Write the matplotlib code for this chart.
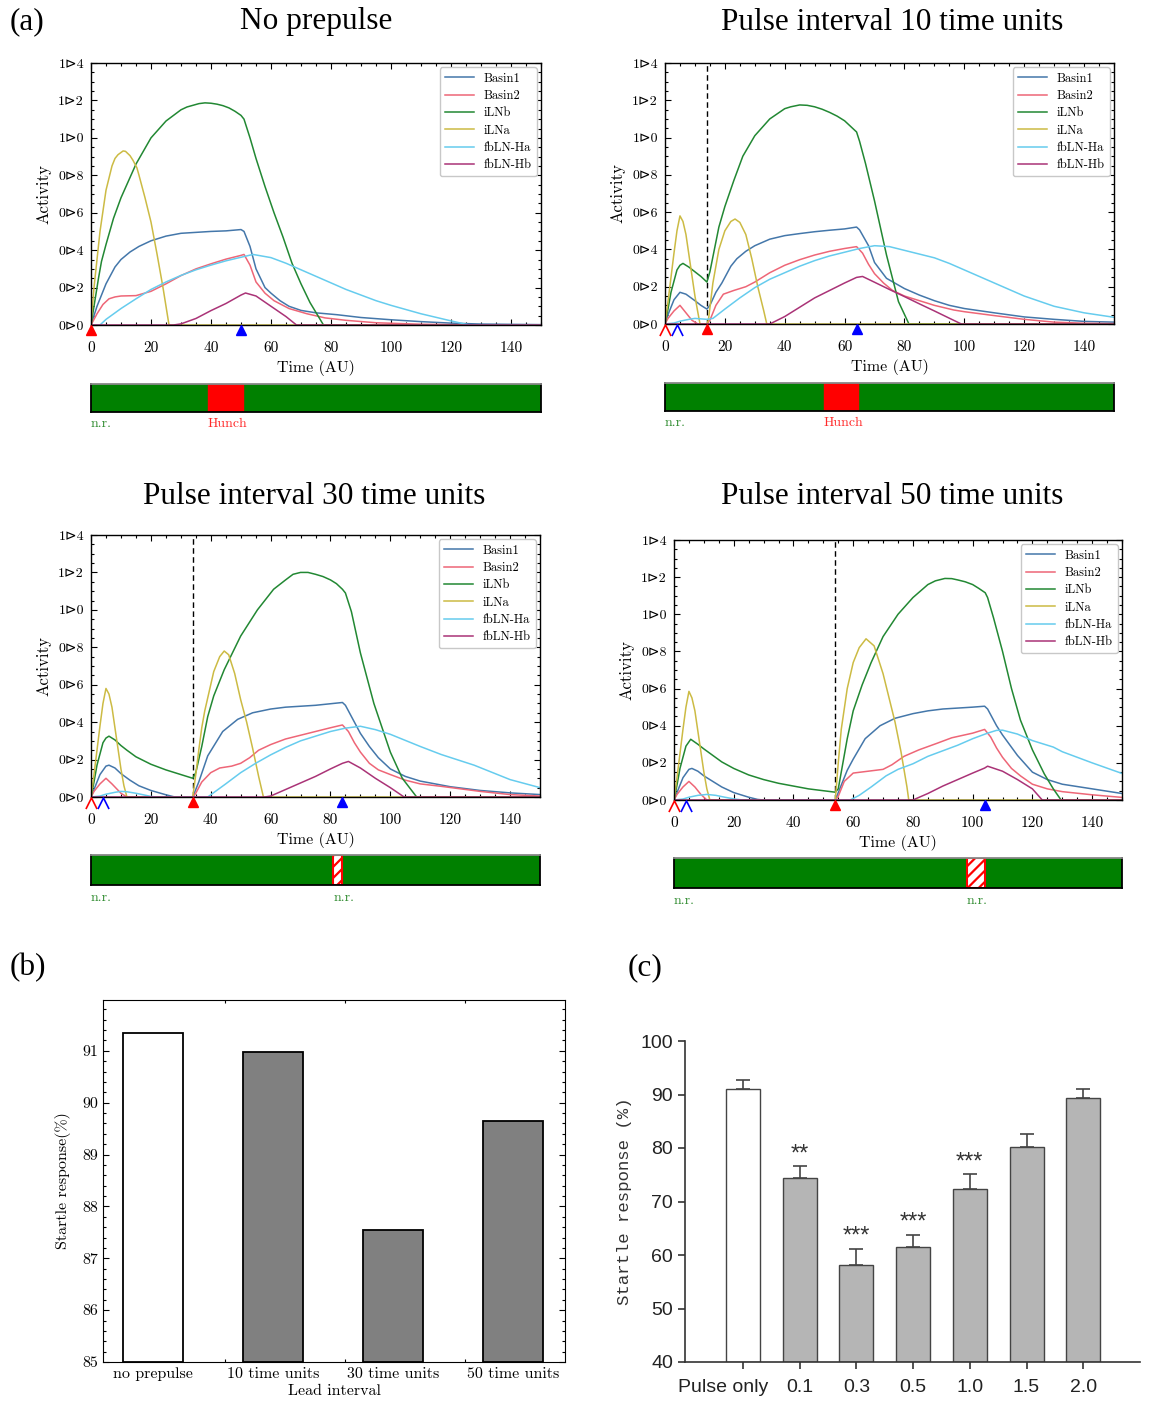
import matplotlib
matplotlib.use("Agg")
import matplotlib.pyplot as plt
from matplotlib.path import Path
from matplotlib.ticker import MultipleLocator, FixedLocator

W, H, DPI = 1155, 1405, 100

SERIES = ["Basin1", "Basin2", "iLNb", "iLNa", "fbLN-Ha", "fbLN-Hb"]
COLORS = ["#4477AA", "#EE6677", "#228833", "#CCBB44", "#66CCEE", "#AA3377"]

# ---------------- (a) No prepulse ----------------
nopp_basin1 = ([0, 2, 5, 8, 10, 13, 16, 20, 25, 30, 35, 40, 45, 50, 51, 53, 55, 58, 60, 63, 66, 70, 75, 82, 90, 100, 110, 120, 130, 150],
               [0, 0.1, 0.22, 0.31, 0.35, 0.39, 0.42, 0.45, 0.475, 0.49, 0.495, 0.5, 0.503, 0.51, 0.5, 0.42, 0.3, 0.2, 0.17, 0.13, 0.1, 0.078, 0.065, 0.055, 0.04, 0.028, 0.018, 0.01, 0.005, 0.002])
nopp_basin2 = ([0, 2, 4, 6, 8, 10, 15, 20, 25, 30, 35, 40, 45, 50, 51, 53, 55, 58, 61, 66, 72, 78, 85, 95, 110, 130, 150],
               [0, 0.06, 0.11, 0.14, 0.15, 0.155, 0.157, 0.18, 0.22, 0.264, 0.3, 0.327, 0.352, 0.372, 0.377, 0.32, 0.23, 0.17, 0.13, 0.088, 0.06, 0.038, 0.025, 0.012, 0.004, 0.0, 0.0])
nopp_ilnb = ([0, 1, 2.5, 3.5, 5, 7.5, 10, 15, 20, 25, 30, 32, 36, 38, 40, 42, 44, 46, 48, 50, 51, 53, 55, 58, 61, 64, 67, 70, 73, 76, 77.5, 150],
             [0, 0.1, 0.25, 0.34, 0.43, 0.57, 0.68, 0.86, 1.0, 1.09, 1.15, 1.165, 1.183, 1.187, 1.185, 1.18, 1.172, 1.16, 1.142, 1.12, 1.1, 1.0, 0.89, 0.74, 0.6, 0.47, 0.33, 0.22, 0.12, 0.04, 0.0, 0.0])
nopp_ilna = ([0, 1, 2, 3, 5, 7, 8, 9, 10.7, 11.5, 13, 14, 15.3, 16, 18, 20, 22, 24, 26, 150],
             [0, 0.2, 0.35, 0.5, 0.72, 0.85, 0.89, 0.91, 0.93, 0.928, 0.905, 0.88, 0.84, 0.8, 0.68, 0.55, 0.38, 0.2, 0.0, 0.0])
nopp_fbha = ([0, 3, 5, 10, 15, 20, 25, 30, 35, 40, 45, 50, 54, 60, 65, 70, 75, 80, 85, 90, 95, 100, 110, 120, 126, 150],
             [0, 0.0, 0.03, 0.088, 0.14, 0.19, 0.23, 0.265, 0.295, 0.32, 0.343, 0.362, 0.377, 0.36, 0.33, 0.295, 0.26, 0.225, 0.19, 0.16, 0.13, 0.105, 0.06, 0.022, 0.0, 0.0])
nopp_fbhb = ([0, 27.5, 30, 35, 40, 45, 50, 51.5, 55, 60, 65, 68.5, 150],
             [0, 0, 0.006, 0.035, 0.077, 0.115, 0.16, 0.171, 0.155, 0.1, 0.045, 0.0, 0.0])

# ---------------- (a) Pulse interval 10 ----------------
pi10_basin1 = ([0, 1, 3, 5, 7, 10, 12, 14, 15, 17, 19, 22, 24, 27, 30, 35, 40, 45, 50, 55, 60, 64, 65, 68, 70, 74, 80, 85, 90, 95, 100, 110, 120, 130, 140, 150],
               [0, 0.05, 0.13, 0.17, 0.16, 0.125, 0.1, 0.08, 0.1, 0.17, 0.22, 0.31, 0.35, 0.39, 0.42, 0.455, 0.474, 0.485, 0.495, 0.503, 0.51, 0.52, 0.505, 0.42, 0.33, 0.245, 0.19, 0.155, 0.125, 0.1, 0.083, 0.06, 0.038, 0.025, 0.014, 0.01])
pi10_basin2 = ([0, 1, 3, 5, 7, 9, 11, 14, 15, 17, 19.5, 23, 27, 30, 35, 40, 45, 50, 55, 60, 64, 66, 68, 70, 73, 76, 80, 90, 96.5, 100, 110, 120, 130, 140, 150],
               [0, 0.03, 0.07, 0.1, 0.06, 0.02, 0.0, 0.0, 0.02, 0.1, 0.16, 0.18, 0.2, 0.225, 0.275, 0.315, 0.345, 0.37, 0.39, 0.405, 0.415, 0.38, 0.32, 0.27, 0.22, 0.18, 0.15, 0.1, 0.075, 0.066, 0.045, 0.025, 0.01, 0.004, 0.002])
pi10_ilnb = ([0, 1, 2, 4, 5, 6, 8, 10, 12, 14, 15, 16, 18, 20, 23, 26, 30, 35, 40, 42, 45, 47.5, 50, 52.5, 55, 57.5, 60, 62, 64, 65, 67, 70, 74, 78, 81.5, 150],
             [0, 0.08, 0.17, 0.29, 0.315, 0.325, 0.305, 0.28, 0.255, 0.225, 0.28, 0.36, 0.52, 0.63, 0.77, 0.9, 1.01, 1.1, 1.155, 1.165, 1.175, 1.173, 1.165, 1.152, 1.135, 1.115, 1.09, 1.06, 1.03, 0.98, 0.86, 0.66, 0.37, 0.12, 0.0, 0.0])
pi10_ilna = ([0, 1, 2, 3, 4, 5, 6, 7, 8, 9, 10, 11, 11.7, 14, 14.5, 16, 18, 20, 22, 23.4, 25, 27, 29, 31, 33, 34, 150],
             [0, 0.12, 0.25, 0.38, 0.5, 0.58, 0.55, 0.48, 0.37, 0.26, 0.15, 0.06, 0.0, 0.0, 0.02, 0.22, 0.4, 0.5, 0.55, 0.563, 0.545, 0.48, 0.35, 0.2, 0.07, 0.0, 0.0])
pi10_fbha = ([0, 3, 5, 8, 10, 14, 16, 20, 25, 30, 35, 40, 45, 50, 55, 60, 65, 70, 75, 80, 85, 90, 95, 100, 110, 120, 130, 140, 150],
             [0, 0.005, 0.015, 0.025, 0.03, 0.025, 0.03, 0.08, 0.14, 0.195, 0.24, 0.275, 0.31, 0.34, 0.365, 0.385, 0.405, 0.42, 0.415, 0.395, 0.375, 0.355, 0.325, 0.29, 0.22, 0.15, 0.095, 0.06, 0.036])
pi10_fbhb = ([0, 34, 35, 40, 45, 50, 55, 60, 64, 66, 70, 75, 80, 85, 90, 95, 99, 150],
             [0, 0, 0.0, 0.04, 0.09, 0.14, 0.18, 0.22, 0.25, 0.255, 0.224, 0.185, 0.147, 0.108, 0.07, 0.031, 0.0, 0.0])

# ---------------- (a) Pulse interval 30 ----------------
pi30_basin1 = ([0, 1, 3, 5, 6, 8, 10, 13, 16, 20, 25, 28, 34, 36, 39, 44, 49, 54, 60, 65, 75, 84, 85, 88, 90, 93, 96, 100, 105, 110, 120, 130, 140, 150],
               [0, 0.04, 0.12, 0.165, 0.17, 0.155, 0.125, 0.09, 0.06, 0.035, 0.012, 0.0, 0.0, 0.08, 0.22, 0.35, 0.415, 0.45, 0.47, 0.48, 0.49, 0.505, 0.49, 0.4, 0.34, 0.27, 0.21, 0.15, 0.11, 0.085, 0.055, 0.035, 0.022, 0.013])
pi30_basin2 = ([0, 1, 3, 5, 7, 10, 12, 34, 35, 37, 40, 43, 47, 50, 53, 56, 60, 65, 70, 75, 80, 84, 86, 88, 90, 93, 96, 100, 105, 110, 117, 130, 140, 150],
               [0, 0.03, 0.07, 0.1, 0.07, 0.02, 0.0, 0.0, 0.02, 0.08, 0.13, 0.155, 0.165, 0.18, 0.21, 0.25, 0.28, 0.31, 0.33, 0.35, 0.37, 0.385, 0.35, 0.29, 0.24, 0.18, 0.145, 0.12, 0.09, 0.07, 0.057, 0.03, 0.013, 0.005])
pi30_ilnb = ([0, 1, 2, 4, 5, 6, 8, 10, 12, 15, 20, 25, 30, 34, 35, 37, 39, 41, 44.5, 50, 55.6, 61, 65, 67.5, 70, 72.5, 75, 77.5, 80, 82, 84, 85, 87, 90, 94.5, 100, 104, 108.8, 150],
             [0, 0.08, 0.17, 0.29, 0.315, 0.325, 0.305, 0.275, 0.25, 0.215, 0.175, 0.145, 0.12, 0.1, 0.13, 0.27, 0.43, 0.54, 0.68, 0.86, 1.0, 1.11, 1.16, 1.19, 1.2, 1.2, 1.19, 1.178, 1.16, 1.14, 1.11, 1.09, 0.99, 0.77, 0.5, 0.24, 0.1, 0.0, 0.0])
pi30_ilna = ([0, 1, 2, 3, 4, 5, 6, 7, 8, 9, 10, 11, 12, 34, 35, 36, 37, 38, 39, 41, 43, 44.5, 46, 48, 50, 52, 54, 56, 57.6, 150],
             [0, 0.12, 0.25, 0.38, 0.5, 0.58, 0.55, 0.48, 0.37, 0.26, 0.15, 0.06, 0.0, 0.0, 0.12, 0.25, 0.37, 0.46, 0.53, 0.67, 0.75, 0.78, 0.76, 0.66, 0.52, 0.4, 0.26, 0.11, 0.0, 0.0])
pi30_fbha = ([0, 3, 5, 8, 10, 12, 15, 18, 20, 22, 39, 45, 50, 55, 60, 65, 70, 75, 80, 85, 90, 95, 100, 110, 117, 128, 140, 150],
             [0, 0.005, 0.015, 0.025, 0.03, 0.028, 0.02, 0.01, 0.003, 0.0, 0.0, 0.07, 0.13, 0.18, 0.225, 0.265, 0.3, 0.325, 0.35, 0.368, 0.378, 0.36, 0.335, 0.27, 0.227, 0.17, 0.093, 0.05])
pi30_fbhb = ([0, 58, 60, 65, 70, 75, 80, 84, 86, 90, 95, 100, 104.6, 150],
             [0, 0, 0.005, 0.04, 0.075, 0.11, 0.15, 0.18, 0.19, 0.155, 0.1, 0.05, 0.0, 0.0])

# ---------------- (a) Pulse interval 50 ----------------
pi50_basin1 = ([0, 1, 3, 5, 6, 8, 10, 13, 16, 20, 25, 28, 30, 54, 56, 58, 60, 64, 69, 74, 80, 85, 90, 95, 100, 104, 105, 108, 110, 115, 120, 125, 130, 140, 150],
               [0, 0.04, 0.12, 0.165, 0.17, 0.155, 0.13, 0.1, 0.07, 0.04, 0.015, 0.003, 0.0, 0.0, 0.08, 0.16, 0.22, 0.33, 0.4, 0.44, 0.465, 0.48, 0.49, 0.495, 0.5, 0.505, 0.49, 0.4, 0.35, 0.24, 0.15, 0.11, 0.085, 0.06, 0.035])
pi50_basin2 = ([0, 1, 3, 5, 7, 9, 11, 54, 55, 57, 60, 65, 70, 73, 77, 82, 88, 93, 100, 104, 106, 108, 110, 113, 116, 120, 125, 130, 140, 150],
               [0, 0.03, 0.07, 0.1, 0.07, 0.03, 0.0, 0.0, 0.02, 0.1, 0.145, 0.155, 0.165, 0.19, 0.235, 0.27, 0.305, 0.335, 0.36, 0.38, 0.34, 0.28, 0.23, 0.17, 0.13, 0.085, 0.06, 0.045, 0.028, 0.014])
pi50_ilnb = ([0, 1, 2, 4, 5.6, 8, 10, 13, 16, 20, 25, 30, 35, 40, 45, 50, 54, 55, 56, 58, 60, 63, 66, 70, 75, 80, 85, 87.5, 90.7, 93, 95, 97.5, 100, 102, 104.2, 105, 107, 110, 113, 116, 120, 124, 127, 129.6, 150],
             [0, 0.08, 0.17, 0.29, 0.327, 0.3, 0.275, 0.24, 0.205, 0.17, 0.135, 0.11, 0.09, 0.075, 0.06, 0.05, 0.042, 0.06, 0.15, 0.33, 0.48, 0.62, 0.74, 0.88, 1.0, 1.09, 1.16, 1.18, 1.193, 1.192, 1.185, 1.175, 1.16, 1.14, 1.116, 1.09, 0.98, 0.8, 0.6, 0.43, 0.27, 0.14, 0.06, 0.0, 0.0])
pi50_ilna = ([0, 1, 2, 3, 4, 5, 6, 7, 8, 9, 10, 11, 12, 54, 55, 56, 58, 60, 62, 64.3, 67, 70, 72, 74, 76, 78, 78.6, 150],
             [0, 0.12, 0.25, 0.38, 0.5, 0.585, 0.55, 0.48, 0.37, 0.26, 0.15, 0.06, 0.0, 0.0, 0.2, 0.38, 0.6, 0.74, 0.82, 0.868, 0.83, 0.68, 0.55, 0.42, 0.26, 0.07, 0.0, 0.0])
pi50_fbha = ([0, 3, 5, 8, 11, 14, 17, 20, 23, 59, 62, 66, 71, 75, 80, 85, 90, 95, 100, 105, 108, 110, 115, 120, 127, 130, 140, 150],
             [0, 0.005, 0.015, 0.025, 0.03, 0.025, 0.015, 0.006, 0.0, 0.0, 0.025, 0.07, 0.13, 0.165, 0.195, 0.235, 0.265, 0.295, 0.33, 0.36, 0.375, 0.376, 0.355, 0.32, 0.285, 0.26, 0.2, 0.143])
pi50_fbhb = ([0, 80, 85, 90, 95, 100, 104, 105, 110, 115, 120, 123.3, 150],
             [0, 0, 0.035, 0.075, 0.11, 0.145, 0.172, 0.182, 0.155, 0.11, 0.06, 0.0, 0.0])

# panel meta
titles = ["No prepulse", "Pulse interval 10 time units",
          "Pulse interval 30 time units", "Pulse interval 50 time units"]
pulse_on = [0, 14, 34, 54]
pulse_off = [50, 64, 84, 104]
has_prepulse = [False, True, True, True]
prepulse_on, prepulse_off = 0, 4
resp_start = [39, 53, 81, 98]
resp_end = [50.5, 64.5, 84, 104]
resp_label = ["Hunch", "Hunch", "n.r.", "n.r."]

# ---------------- (b) model startle ----------------
b_labels = ["no prepulse", "10 time units", "30 time units", "50 time units"]
b_values = [91.35, 90.98, 87.54, 89.64]

# ---------------- (c) experiment ----------------
c_labels = ["Pulse only", "0.1", "0.3", "0.5", "1.0", "1.5", "2.0"]
c_values = [91.0, 74.3, 58.1, 61.5, 72.3, 80.1, 89.3]
c_errors = [1.7, 2.3, 3.1, 2.3, 2.8, 2.5, 1.8]
c_stars = ["", "**", "***", "***", "***", "", ""]

CM = ["cmr10", "DejaVu Sans"]
TIMES = "Liberation Serif"
plt.rcParams["axes.unicode_minus"] = False
plt.rcParams["hatch.linewidth"] = 1.6


def px_axes(fig, x0, y0, x1, y1):
    return fig.add_axes([x0 / W, 1 - y1 / H, (x1 - x0) / W, (y1 - y0) / H])


CARET = Path([(-1, -1), (0, 1), (1, -1)], [Path.MOVETO, Path.LINETO, Path.LINETO])


def draw_activity(ax, curves, k):
    for (t, y), name, col in zip(curves, SERIES, COLORS):
        ax.plot(t, y, color=col, lw=1.1, label=name)
    if has_prepulse[k]:
        ax.axvline(pulse_on[k], color="black", ls="--", lw=1.0, dashes=(4, 2.5), zorder=1)
        ax.plot([prepulse_on], [-0.03], marker=CARET, ms=8, mfc="none", mec="red",
                mew=1.2, clip_on=False, zorder=6)
        ax.plot([prepulse_off], [-0.03], marker=CARET, ms=8, mfc="none", mec="blue",
                mew=1.2, clip_on=False, zorder=6)
    ax.plot([pulse_on[k]], [-0.025], marker="^", ms=7.5, color="red", clip_on=False, zorder=6)
    ax.plot([pulse_off[k]], [-0.025], marker="^", ms=7.5, color="blue", clip_on=False, zorder=6)

    ax.set_xlim(0, 150)
    ax.set_ylim(0, 1.4)
    ax.xaxis.set_major_locator(MultipleLocator(20))
    ax.xaxis.set_minor_locator(MultipleLocator(5))
    yt = [0.0, 0.2, 0.4, 0.6, 0.8, 1.0, 1.2, 1.4]
    ax.set_yticks(yt)
    ax.set_yticklabels([f"{v:.1f}".replace(".", "\u22b3") for v in yt])
    ax.yaxis.set_minor_locator(MultipleLocator(0.05))
    ax.tick_params(which="both", direction="in", top=True, right=True, width=0.8)
    ax.tick_params(which="major", length=4)
    ax.tick_params(which="minor", length=2)
    ax.tick_params(axis="x", pad=12)
    ax.tick_params(axis="y", pad=5)
    for lab in ax.get_xticklabels():
        lab.set_family(CM)
        lab.set_fontsize(11)
    for lab in ax.get_yticklabels():
        lab.set_family(CM)
        lab.set_fontsize(10)
    for sp in ax.spines.values():
        sp.set_linewidth(1.0)
    ax.set_xlabel("Time (AU)", family=CM, fontsize=11.5, labelpad=3)
    ax.set_ylabel("Activity", family=CM, fontsize=12, labelpad=5)
    leg = ax.legend(loc="upper right", prop={"family": "cmr10", "size": 9},
                    frameon=True, fancybox=True, framealpha=1, edgecolor="#c8c8c8",
                    handlelength=2.3, borderaxespad=0.35, labelspacing=0.42)
    leg.get_frame().set_linewidth(1.0)


def draw_response(ax, k):
    ax.set_xlim(0, 150)
    ax.set_ylim(0, 1)
    ax.axvspan(0, 150, color="#008000", zorder=1)
    if resp_label[k] == "Hunch":
        ax.axvspan(resp_start[k], resp_end[k], color="#ff0000", zorder=2)
        ax.text(resp_start[k], -0.42, "Hunch", color="#ff2a2a", family=CM, fontsize=10,
                ha="left", va="center", transform=ax.get_xaxis_transform())
    else:
        ax.axvspan(resp_start[k], resp_end[k], facecolor="white", edgecolor="red",
                   hatch="///", lw=1.5, zorder=2)
        ax.text(resp_start[k], -0.42, "n.r.", color="#2e8b2e", family=CM, fontsize=10,
                ha="left", va="center", transform=ax.get_xaxis_transform())
    ax.text(0, -0.42, "n.r.", color="#2e8b2e", family=CM, fontsize=10,
            ha="left", va="center", transform=ax.get_xaxis_transform())
    ax.set_xticks([])
    ax.set_yticks([])
    for sp in ax.spines.values():
        sp.set_linewidth(1.3)
        sp.set_color("black")
    ax.spines["top"].set_color("#888888")


fig = plt.figure(figsize=(W / DPI, H / DPI), dpi=DPI)
fig.patch.set_facecolor("white")

curves_all = [
    [nopp_basin1, nopp_basin2, nopp_ilnb, nopp_ilna, nopp_fbha, nopp_fbhb],
    [pi10_basin1, pi10_basin2, pi10_ilnb, pi10_ilna, pi10_fbha, pi10_fbhb],
    [pi30_basin1, pi30_basin2, pi30_ilnb, pi30_ilna, pi30_fbha, pi30_fbhb],
    [pi50_basin1, pi50_basin2, pi50_ilnb, pi50_ilna, pi50_fbha, pi50_fbhb],
]
act_boxes = [(91, 63, 541, 325), (665, 63, 1114, 324), (91, 535, 540, 797), (674, 540, 1122, 800)]
bar_boxes = [(91, 384, 541, 412), (665, 383, 1114, 411), (91, 855, 540, 885), (674, 858, 1122, 888)]
title_pos = [(316, 22), (892, 22), (314, 497), (892, 497)]

for k in range(4):
    ax = px_axes(fig, *act_boxes[k])
    draw_activity(ax, curves_all[k], k)
    bx = px_axes(fig, *bar_boxes[k])
    draw_response(bx, k)
    fig.text(title_pos[k][0] / W, 1 - title_pos[k][1] / H, titles[k], family=TIMES,
             fontsize=22.5, ha="center", va="center")

fig.text(10 / W, 1 - 22 / H, "(a)", family=TIMES, fontsize=22.5, ha="left", va="center")
fig.text(10 / W, 1 - 968 / H, "(b)", family=TIMES, fontsize=22.5, ha="left", va="center")
fig.text(628 / W, 1 - 968 / H, "(c)", family=TIMES, fontsize=22.5, ha="left", va="center")

# ---- panel (b)
axb = px_axes(fig, 103, 1000, 565, 1362)
xb = list(range(len(b_values)))
axb.bar(xb, [v - 85 for v in b_values], bottom=85, width=0.5,
        color=["white", "#808080", "#808080", "#808080"], edgecolor="black", lw=1.3, zorder=3)
axb.set_xlim(-0.42, 3.43)
axb.set_ylim(85, 91.98)
axb.set_yticks([85, 86, 87, 88, 89, 90, 91])
axb.yaxis.set_minor_locator(MultipleLocator(0.2))
axb.set_xticks(xb)
axb.set_xticklabels(b_labels)
axb.xaxis.set_minor_locator(FixedLocator([0.6, 1.6, 2.6]))
axb.tick_params(which="both", direction="in", top=True, right=True, width=0.8)
axb.tick_params(which="major", length=4)
axb.tick_params(axis="x", which="major", length=0, pad=4)
axb.tick_params(which="minor", length=2)
for lab in axb.get_xticklabels() + axb.get_yticklabels():
    lab.set_family(CM)
    lab.set_fontsize(11.5)
axb.set_xlabel("Lead interval", family=CM, fontsize=11.5, labelpad=2)
axb.set_ylabel("Startle response(%)", family=CM, fontsize=11.5, labelpad=8)

# ---- panel (c)
axc = px_axes(fig, 685, 1041, 1140, 1362)
xc = list(range(len(c_values)))
axc.bar(xc, [v - 40 for v in c_values], bottom=40, width=0.6,
        color=["white"] + ["#b5b5b5"] * 6, edgecolor="#444444", lw=1.0, zorder=2)
axc.errorbar(xc, c_values, yerr=[[0] * len(c_errors), c_errors], fmt="none",
             ecolor="#444444", elinewidth=1.2, capsize=5, capthick=1.2, zorder=1)
for x, v, e, s in zip(xc, c_values, c_errors, c_stars):
    if s:
        axc.text(x, v + e + 2.2, s, ha="center", va="center", fontsize=17,
                 family="Liberation Sans", color="#333333")
axc.set_xlim(-1.02, 7.0)
axc.set_ylim(40, 100)
axc.set_yticks(range(40, 101, 10))
axc.set_xticks(xc)
# first category label sits a little left of its tick in the original
axc.set_xticklabels([""] + c_labels[1:], family="Liberation Sans", fontsize=14)
axc.annotate(c_labels[0], xy=(0, 0), xycoords=("data", "axes fraction"),
             xytext=(-14, -12), textcoords="offset points", ha="center", va="top",
             family="Liberation Sans", fontsize=14, color="#222222")
for lab in axc.get_yticklabels():
    lab.set_family("Liberation Sans")
    lab.set_fontsize(14)
axc.spines["top"].set_visible(False)
axc.spines["right"].set_visible(False)
for sp in ("left", "bottom"):
    axc.spines[sp].set_color("#333333")
    axc.spines[sp].set_linewidth(1.2)
axc.tick_params(direction="out", length=5, width=1.2, color="#333333", labelcolor="#222222")
axc.tick_params(axis="x", pad=7)
axc.set_ylabel("Startle response (%)", family="Liberation Mono", fontsize=12.5,
               color="#333333", labelpad=6)

fig.savefig("out.png", dpi=DPI, facecolor="white")
